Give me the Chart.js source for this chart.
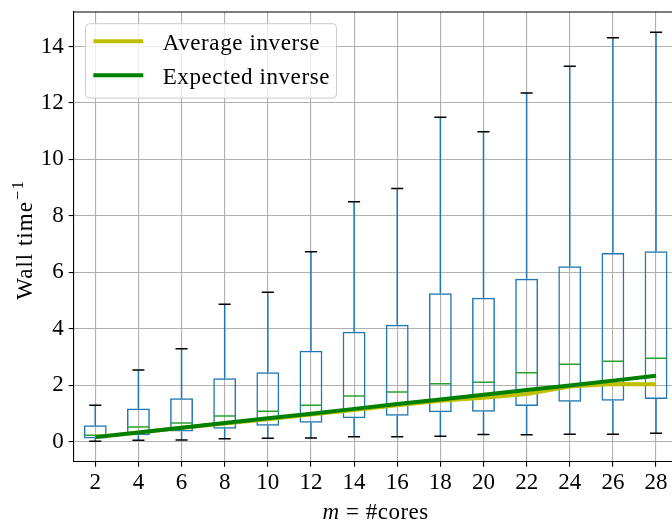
<!DOCTYPE html>
<html><head><meta charset="utf-8">
<script src="https://cdn.jsdelivr.net/npm/chart.js@4.4.1/dist/chart.umd.min.js"></script>
<style>
html,body{margin:0;padding:0;overflow:hidden;background:#fff;width:672px;height:521px}
#wrap{width:680px;height:521px}
canvas{display:block}
</style></head>
<body><div id="wrap"><canvas id="c" width="680" height="521"></canvas></div>
<script>
const categories = ['2','4','6','8','10','12','14','16','18','20','22','24','26','28'];
const whiskerLow  = [0.02,0.06,0.07,0.11,0.13,0.14,0.18,0.18,0.20,0.26,0.25,0.27,0.27,0.31];
const q1          = [0.12,0.24,0.37,0.47,0.57,0.68,0.84,0.93,1.05,1.07,1.27,1.42,1.46,1.52];
const median      = [0.24,0.53,0.67,0.92,1.09,1.30,1.63,1.77,2.06,2.11,2.45,2.75,2.86,2.96];
const q3          = [0.59,1.18,1.55,2.25,2.47,3.23,3.90,4.15,5.26,5.10,5.78,6.22,6.69,6.75];
const whiskerHigh = [1.30,2.55,3.30,4.87,5.30,6.73,8.50,8.97,11.49,10.98,12.35,13.30,14.31,14.50];
const averageInverse  = [0.17,0.33,0.50,0.65,0.80,0.97,1.13,1.30,1.46,1.56,1.70,1.96,2.05,2.04];
const expectedInverse = [0.17,0.33,0.50,0.67,0.84,1.00,1.17,1.34,1.50,1.67,1.84,2.00,2.17,2.34];
const yTicks = [0,2,4,6,8,10,12,14];
const yTitle = 'Wall time';
const yTitleSup = '\u22121';
const xTitleVar = 'm';
const xTitleRest = ' = #cores';

const FONT = '"Liberation Serif", "DejaVu Serif", serif';

const boxExtras = {
  id: 'boxExtras',
  afterDatasetDraw(chart, args) {
    if (args.index !== 0) return;
    const ctx = chart.ctx, xs = chart.scales.x, ys = chart.scales.y, a = chart.chartArea;
    const step = xs.getPixelForValue(1) - xs.getPixelForValue(0);
    ctx.save();
    ctx.beginPath(); ctx.rect(a.left, a.top, a.right - a.left, a.bottom - a.top); ctx.clip();
    ctx.lineWidth = 1.5;
    categories.forEach((c, i) => {
      const x = xs.getPixelForValue(i);
      ctx.strokeStyle = '#1f77b4';
      ctx.beginPath();
      ctx.moveTo(x, ys.getPixelForValue(q3[i])); ctx.lineTo(x, ys.getPixelForValue(whiskerHigh[i]));
      ctx.moveTo(x, ys.getPixelForValue(q1[i])); ctx.lineTo(x, ys.getPixelForValue(whiskerLow[i]));
      ctx.stroke();
      const cw = step * 0.14;
      ctx.strokeStyle = '#000';
      ctx.beginPath();
      ctx.moveTo(x - cw, ys.getPixelForValue(whiskerHigh[i])); ctx.lineTo(x + cw, ys.getPixelForValue(whiskerHigh[i]));
      ctx.moveTo(x - cw, ys.getPixelForValue(whiskerLow[i])); ctx.lineTo(x + cw, ys.getPixelForValue(whiskerLow[i]));
      ctx.stroke();
      const mw = step * 0.25;
      ctx.strokeStyle = '#2ca02c';
      ctx.beginPath();
      ctx.moveTo(x - mw, ys.getPixelForValue(median[i])); ctx.lineTo(x + mw, ys.getPixelForValue(median[i]));
      ctx.stroke();
    });
    ctx.restore();
  },
  afterDraw(chart) {
    const ctx = chart.ctx, a = chart.chartArea;
    ctx.save();
    ctx.strokeStyle = '#000'; ctx.lineWidth = 1.1;
    ctx.beginPath();
    ctx.moveTo(a.left, a.top); ctx.lineTo(a.right, a.top); ctx.lineTo(a.right, a.bottom);
    ctx.stroke();
    // legend
    const lx = 85.5, ly = 23.7, lw = 251, lh = 74.3;
    ctx.beginPath();
    ctx.roundRect(lx, ly, lw, lh, 4);
    ctx.fillStyle = 'rgba(255,255,255,0.8)'; ctx.fill();
    ctx.strokeStyle = '#cccccc'; ctx.lineWidth = 1; ctx.stroke();
    const items = [chart.data.datasets[1], chart.data.datasets[2]];
    const ys = [41.3, 75.3];
    items.forEach((d, k) => {
      ctx.strokeStyle = d.borderColor; ctx.lineWidth = 4; ctx.lineCap = 'butt';
      ctx.beginPath(); ctx.moveTo(93.3, ys[k]); ctx.lineTo(143.3, ys[k]); ctx.stroke();
      ctx.fillStyle = '#000';
      ctx.font = '23px ' + FONT;
      ctx.letterSpacing = '0.6px';
      ctx.textAlign = 'left'; ctx.textBaseline = 'alphabetic';
      ctx.fillText(d.label, 162.7, ys[k] + 8.5);
    });
    ctx.letterSpacing = '0px';
    // y title
    ctx.save();
    ctx.font = '23px ' + FONT;
    ctx.letterSpacing = '1px';
    const w1 = ctx.measureText(yTitle).width;
    ctx.font = '17px ' + FONT;
    const w2 = ctx.measureText(yTitleSup).width;
    const cy = (a.top + a.bottom) / 2 + 3;
    ctx.translate(32, cy);
    ctx.rotate(-Math.PI / 2);
    ctx.fillStyle = '#000'; ctx.textAlign = 'left'; ctx.textBaseline = 'alphabetic';
    const start = -(w1 + w2 + 1) / 2;
    ctx.font = '23px ' + FONT;
    ctx.fillText(yTitle, start, 0);
    ctx.font = '17px ' + FONT;
    ctx.fillText(yTitleSup, start + w1 + 1, -9);
    ctx.restore();
    // x title
    ctx.font = 'italic 23px ' + FONT;
    ctx.letterSpacing = '0.5px';
    const m1 = ctx.measureText(xTitleVar).width;
    ctx.font = '23px ' + FONT;
    const m2 = ctx.measureText(xTitleRest).width;
    const cx = (a.left + a.right) / 2;
    const sx = cx - (m1 + m2) / 2;
    ctx.fillStyle = '#000'; ctx.textAlign = 'left'; ctx.textBaseline = 'alphabetic';
    ctx.font = 'italic 23px ' + FONT;
    ctx.fillText(xTitleVar, sx, 519);
    ctx.font = '23px ' + FONT;
    ctx.fillText(xTitleRest, sx + m1, 519);
    ctx.restore();
  }
};

const gridCommon = { color: '#b0b0b0', lineWidth: 1.1, tickLength: 5, tickColor: '#000', tickWidth: 1.1 };

new Chart(document.getElementById('c'), {
  type: 'bar',
  data: {
    labels: categories,
    datasets: [
      { type: 'bar', label: 'Box', data: q1.map((v, i) => [v, q3[i]]),
        backgroundColor: 'rgba(0,0,0,0)', borderColor: '#1f77b4', borderWidth: 1.5,
        borderSkipped: false, barPercentage: 0.53, categoryPercentage: 1, order: 3 },
      { type: 'line', label: 'Average inverse', data: averageInverse, borderColor: '#bfbf00',
        borderWidth: 4, pointRadius: 0, tension: 0, order: 2, borderJoinStyle: 'round' },
      { type: 'line', label: 'Expected inverse', data: expectedInverse, borderColor: '#008000',
        borderWidth: 4, pointRadius: 0, tension: 0, order: 1, borderJoinStyle: 'round' }
    ]
  },
  options: {
    responsive: false, animation: false, devicePixelRatio: 1,
    layout: { padding: { top: 12, right: 2.4, left: 0, bottom: 0 } },
    plugins: { legend: { display: false }, tooltip: { enabled: false } },
    scales: {
      x: {
        offset: true,
        grid: Object.assign({ offset: false }, gridCommon),
        border: { color: '#000', width: 1.1 },
        ticks: { font: { family: FONT, size: 23 }, color: '#000', padding: 2, maxRotation: 0, autoSkip: false },
        afterFit(s) { s.height = 59.3; s.paddingLeft = 0; s.paddingRight = 0; }
      },
      y: {
        min: -0.70, max: 15.22,
        afterBuildTicks(s) { s.ticks = yTicks.map(v => ({ value: v })); },
        grid: gridCommon,
        border: { color: '#000', width: 1.1 },
        ticks: { font: { family: FONT, size: 23 }, color: '#000', padding: 5, callback: v => String(v) },
        afterFit(s) { s.width = 73.7; s.paddingTop = 0; s.paddingBottom = 0; }
      }
    }
  },
  plugins: [boxExtras]
});
</script>
</body></html>
